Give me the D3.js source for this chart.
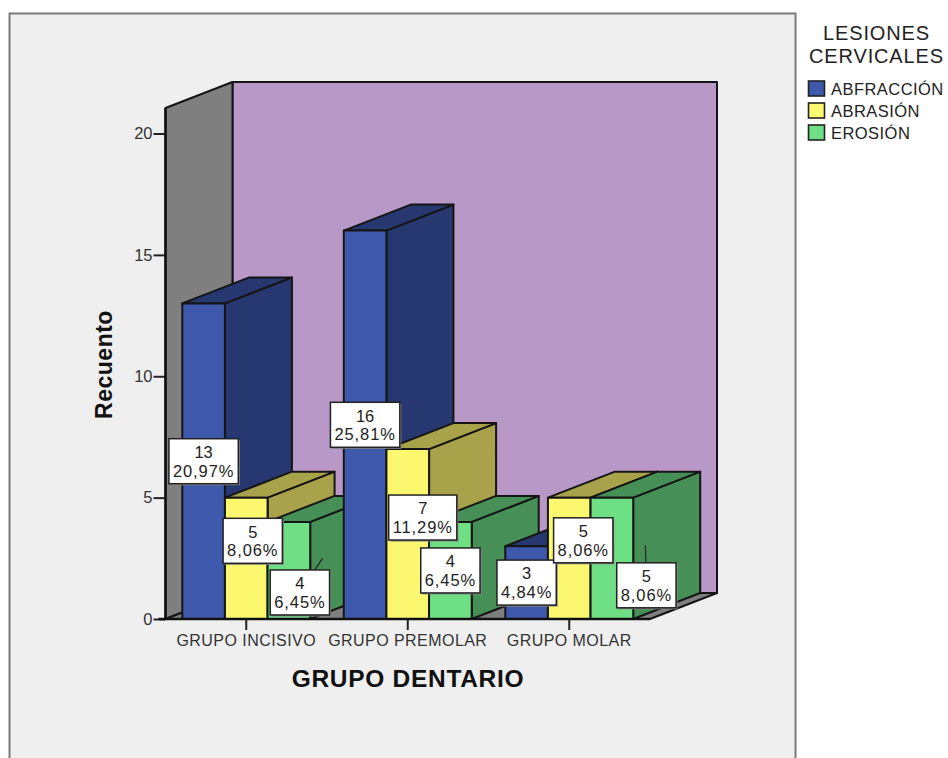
<!DOCTYPE html>
<html lang="es">
<head>
<meta charset="utf-8">
<title>Lesiones cervicales por grupo dentario</title>
<script src="https://cdn.jsdelivr.net/npm/d3@7"></script>
<style>
  html, body { margin: 0; padding: 0; background: #fff; }
  svg { display: block; }
  text { font-family: "Liberation Sans", Arial, sans-serif; }
</style>
</head>
<body>
<svg id="chart" width="948" height="758"></svg>
<script>
// Counts per tooth group, one list per lesion type
const categories = ["GRUPO INCISIVO", "GRUPO PREMOLAR", "GRUPO MOLAR"];
const seriesNames = ["ABFRACCIÓN", "ABRASIÓN", "EROSIÓN"];
const abfraccion = [13, 16, 3];
const abrasion = [5, 7, 5];
const erosion = [4, 4, 5];
const yTicks = [0, 5, 10, 15, 20];

const seriesValues = [abfraccion, abrasion, erosion];
const total = d3.sum(seriesValues.flat());

// Face colours: front, then the shaded top and side
const frontColors = ["#3e58ac", "#fbf76e", "#6fdf85"];
const shadeColors = ["#26386f", "#a8a24a", "#468f57"];

// Oblique projection of the chart's depth axis
const depthX = 67, depthY = -26;
const wallTopValue = 21.05;

const svg = d3.select("#chart");

const x0 = d3.scaleBand().domain(categories).range([165.5, 650]).paddingInner(0.208).paddingOuter(0.104);
const x1 = d3.scaleBand().domain(seriesNames).range([0, x0.bandwidth()]);
const y = d3.scaleLinear().domain([0, 20]).range([619, 133.5]);

// Outer panel
svg.append("rect").attr("x", 9.5).attr("y", 13.5).attr("width", 786).attr("height", 770)
  .attr("fill", "#efefef").attr("stroke", "#7a7a7a").attr("stroke-width", 2);

const poly = (g, pts, fill) => g.append("polygon")
  .attr("points", pts.map(p => p.join(",")).join(" "))
  .attr("fill", fill).attr("stroke", "#151515").attr("stroke-width", 2).attr("stroke-linejoin", "round");

// Walls and floor
const room = svg.append("g");
const [xl, xr] = x0.range();
const yb = y(0), yt = y(wallTopValue);
const backRight = 717;
poly(room, [[xl + depthX, yb + depthY], [backRight, yb + depthY], [backRight, yt + depthY], [xl + depthX, yt + depthY]], "#b798c6");
poly(room, [[xl, yb], [xl + depthX, yb + depthY], [xl + depthX, yt + depthY], [xl, yt]], "#7f7f7f");
poly(room, [[xl, yb], [xl + depthX, yb + depthY], [backRight, yb + depthY], [xr, yb]], "#7f7f7f");

// Bars, painted left to right so nearer boxes cover the sides behind them
const bars = svg.append("g");
categories.forEach((cat, i) => {
  seriesNames.forEach((name, s) => {
    const v = seriesValues[s][i];
    const a = x0(cat) + x1(name), b = a + x1.bandwidth();
    const t = y(v), f = y(0);
    poly(bars, [[b, f], [b + depthX, f + depthY], [b + depthX, t + depthY], [b, t]], shadeColors[s]);
    poly(bars, [[a, t], [a + depthX, t + depthY], [b + depthX, t + depthY], [b, t]], shadeColors[s]);
    poly(bars, [[a, f], [a, t], [b, t], [b, f]], frontColors[s]);
  });
});

// Axes
const yAxis = svg.append("g").attr("transform", `translate(${xl},0)`)
  .call(d3.axisLeft(y).tickValues(yTicks).tickSize(12).tickPadding(1));
const xAxis = svg.append("g").attr("transform", `translate(0,${yb})`)
  .call(d3.axisBottom(x0).tickSize(11).tickPadding(5));
[yAxis, xAxis].forEach(g => {
  g.select(".domain").remove();
  g.selectAll("line").attr("stroke", "#222").attr("stroke-width", 2);
  g.selectAll("text").attr("fill", "#333").style("font-family", '"Liberation Sans", Arial, sans-serif');
});
yAxis.selectAll("text").style("font-size", "16.5px");
xAxis.selectAll("text").style("font-size", "16px").style("letter-spacing", "0.45px");
svg.append("line").attr("x1", xl - 7).attr("x2", xr).attr("y1", yb).attr("y2", yb)
  .attr("stroke", "#111").attr("stroke-width", 2.4);
svg.append("line").attr("x1", xl).attr("x2", xl).attr("y1", yb).attr("y2", yt)
  .attr("stroke", "#111").attr("stroke-width", 2.4);

// Axis titles
svg.append("text").attr("x", 408).attr("y", 687).attr("text-anchor", "middle")
  .attr("font-weight", "bold").attr("font-size", 24.5).attr("letter-spacing", 0.7).attr("fill", "#111").text("GRUPO DENTARIO");
svg.append("text").attr("transform", "translate(112,364.5) rotate(-90)").attr("text-anchor", "middle")
  .attr("font-weight", "bold").attr("font-size", 23).attr("letter-spacing", 0.5).attr("fill", "#111").text("Recuento");

// Value labels: pixel nudge of each box from its bar's centre, by series then group
const labelNudge = [
  [[0, 0], [0, 0], [0, 0]],
  [[6.5, -17.5], [15, -16.5], [14, -18]],
  [[11, 22], [0, 0], [34.5, 27]]
];
// Leader lines run from a box centre out to these offsets
const leaderEnds = { "2-0": [22.6, -34], "2-2": [-1, -40] };
const fmtPct = v => (v / total * 100).toFixed(2).replace(".", ",") + "%";

const labels = svg.append("g");
categories.forEach((cat, i) => {
  seriesNames.forEach((name, s) => {
    const v = seriesValues[s][i];
    const cx = x0(cat) + x1(name) + x1.bandwidth() / 2 + labelNudge[s][i][0];
    const cy = (y(v) + y(0)) / 2 + labelNudge[s][i][1];
    const g = labels.append("g").attr("transform", `translate(${cx},${cy})`);
    const end = leaderEnds[`${s}-${i}`];
    if (end) g.append("line").attr("x1", 0).attr("y1", 0).attr("x2", end[0]).attr("y2", end[1])
      .attr("stroke", "#222").attr("stroke-width", 1.2);
    const shadow = g.append("rect").attr("fill", "#888");
    const box = g.append("rect").attr("fill", "#fff").attr("stroke", "#222").attr("stroke-width", 1.5);
    g.append("text").attr("y", -3.2).attr("text-anchor", "middle").attr("font-size", 16.5).attr("fill", "#222").text(v);
    const line2 = g.append("text").attr("y", 15.6).attr("text-anchor", "middle").attr("font-size", 16.5).attr("fill", "#222")
      .attr("letter-spacing", 0.9).text(fmtPct(v));
    const w = line2.node().getComputedTextLength() + 8, h = 45;
    box.attr("x", -w / 2).attr("y", -h / 2).attr("width", w).attr("height", h);
    shadow.attr("x", -w / 2 + 1.5).attr("y", -h / 2 + 1.5).attr("width", w).attr("height", h);
  });
});

// Legend
const legend = svg.append("g");
["LESIONES", "CERVICALES"].forEach((t, i) => {
  legend.append("text").attr("x", 876.5).attr("y", 40.3 + i * 22.6).attr("text-anchor", "middle")
    .attr("font-size", 20).attr("letter-spacing", 0.85).attr("fill", "#222").text(t);
});
seriesNames.forEach((name, s) => {
  const top = 81 + s * 22;
  legend.append("rect").attr("x", 808.5).attr("y", top).attr("width", 16).attr("height", 15)
    .attr("fill", frontColors[s]).attr("stroke", "#222").attr("stroke-width", 1.6);
  legend.append("text").attr("x", 831).attr("y", top + 14).attr("font-size", 16.5).attr("letter-spacing", 0.45)
    .attr("fill", "#222").text(name);
});
</script>
</body>
</html>
